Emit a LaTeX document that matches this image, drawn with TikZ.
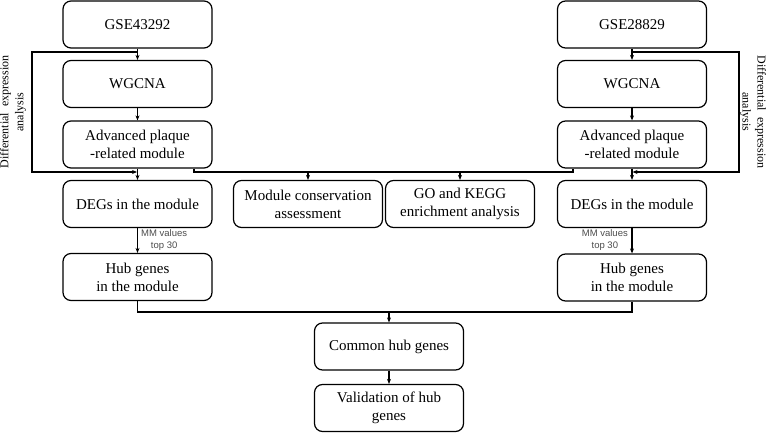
\documentclass[tikz,border=0pt]{standalone}
\usepackage{fontspec}
\setmainfont{Liberation Serif}
\newfontfamily\sansf{Liberation Sans}
\usetikzlibrary{arrows.meta}
\begin{document}
\begin{tikzpicture}[x=1pt,y=-1pt,
 box/.style={draw, rounded corners=8pt, line width=1.2pt, minimum width=149pt, minimum height=47pt, align=center, font=\fontsize{15}{18}\selectfont, inner sep=2pt},
 arr/.style={-{Stealth[length=5pt,width=4pt]}, line width=1.1pt},
 ln/.style={line width=1.1pt},
 mm/.style={font=\sansf\fontsize{9.5}{12}\selectfont, text=black!70, align=center, inner sep=0pt},
 side/.style={font=\fontsize{12}{15}\selectfont, align=center, inner sep=0pt}]
\useasboundingbox (0,0) rectangle (767,433);
% left column
\node[box] (g1) at (137.5,24.5) {GSE43292};
\node[box] (w1) at (137.5,84) {WGCNA};
\node[box] (a1) at (137.5,144.5) {Advanced plaque\\-related module};
\node[box] (d1) at (137.5,204) {DEGs in the module};
\node[box] (h1) at (137.5,277) {Hub genes\\in the module};
% right column
\node[box] (g2) at (632,24.5) {GSE28829};
\node[box] (w2) at (632,84) {WGCNA};
\node[box] (a2) at (632,144.5) {Advanced plaque\\-related module};
\node[box] (d2) at (632,204) {DEGs in the module};
\node[box] (h2) at (632,277.5) {Hub genes\\in the module};
% middle
\node[box] (m1) at (308,204) {Module conservation\\assessment};
\node[box] (m2) at (460,204) {GO and KEGG\\enrichment analysis};
\node[box] (c) at (389,346.5) {Common hub genes};
\node[box] (v) at (389,408) {Validation of hub\\genes};
% labels
\node[mm, anchor=west] (l1) at (141,240) {MM values\\top 30};
\node[mm, anchor=east] (l2) at (628,240) {MM values\\top 30};
\node[side, rotate=90] (s1) at (13,112) {Differential\ \ expression\\analysis};
\node[side, rotate=-90] (s2) at (753,112) {Differential\ \ expression\\analysis};
% coordinates
\coordinate (fl1) at (32,52);
\coordinate (fl2) at (32,172);
\coordinate (fr1) at (739,52);
\coordinate (fr2) at (739,172);
\coordinate (ml) at (194,172);
\coordinate (mr) at (573,172);
\coordinate (bl) at (137.5,312);
% vertical arrows
\draw[arr] (g1) -- (w1);
\draw[arr] (w1) -- (a1);
\draw[arr] (a1) -- (d1);
\draw[arr] (d1) -- (h1);
\draw[arr] (g2) -- (w2);
\draw[arr] (w2) -- (a2);
\draw[arr] (a2) -- (d2);
\draw[arr] (d2) -- (h2);
% feedback loops
\draw[arr] (fl1 -| g1.south) -- (fl1) -- (fl2) -- ([xshift=-0.5pt]fl2 -| a1.south);
\draw[arr] (fr1 -| g2.south) -- (fr1) -- (fr2) -- ([xshift=0.5pt]fr2 -| a2.south);
% middle bus
\draw[ln] (ml |- a1.south) -- (ml) -- (mr) -- (mr |- a2.south);
\draw[arr] (ml -| m1) -- (m1);
\draw[arr] (ml -| m2) -- (m2);
% bottom
\draw[ln] (h1.south) -- (bl) -- (bl -| h2) -- (h2.south);
\draw[arr] (bl -| c) -- (c);
\draw[arr] (c) -- (v);
\end{tikzpicture}
\end{document}
